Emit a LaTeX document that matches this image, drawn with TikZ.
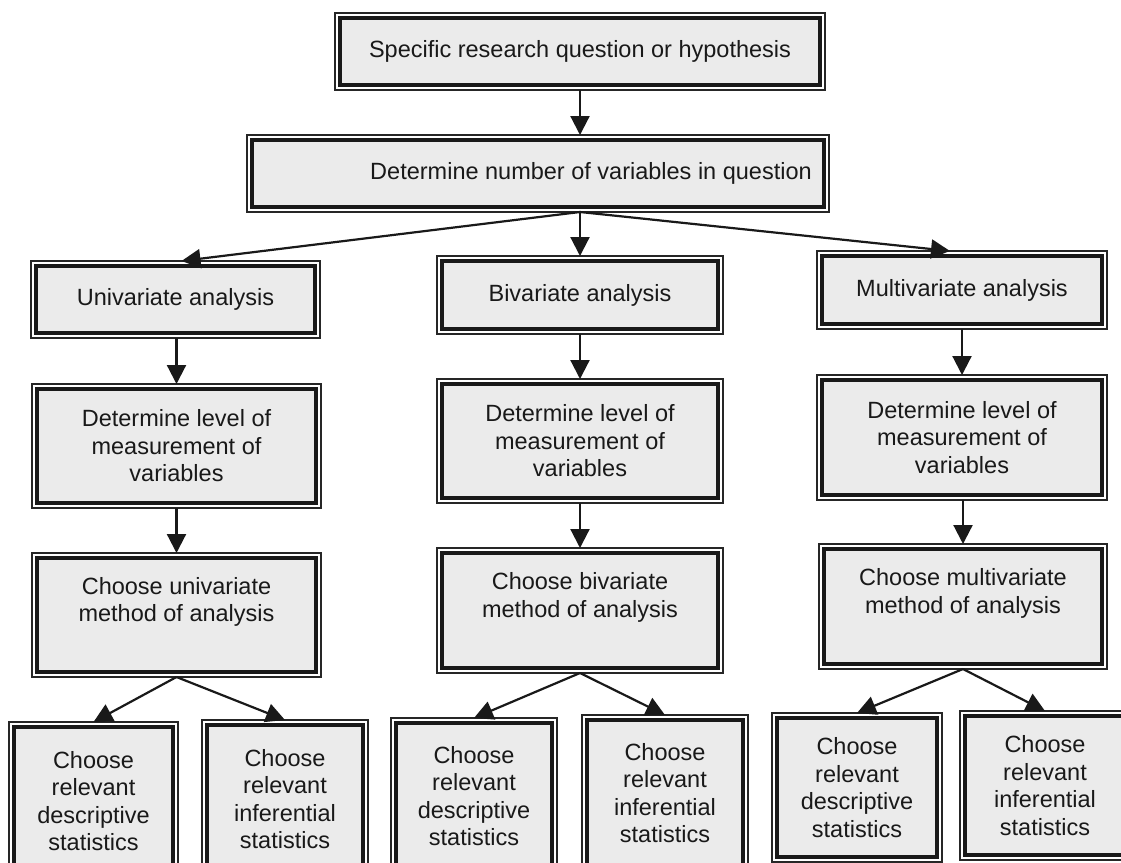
\documentclass[tikz,border=0pt]{standalone}
\usepackage{fontspec}
\setmainfont{Liberation Sans}
\usetikzlibrary{arrows.meta}

% framed box: name, x1, y1, x2, y2 (outer frame, px), text
\newcommand\flowbox[6]{%
  \node[framebox,
        minimum width={(#4-#2-10)*1pt},
        minimum height={(#5-#3-10)*1pt}]
    (#1) at ({(#2+#4)/2},{(#3+#5)/2}) {#6};
  \draw[outerline] (#1.north west) rectangle (#1.south east);
}

\tikzset{
  framebox/.style={draw=black!90, line width=3.4pt, fill=black!8,
    inner sep=0pt, outer sep=5pt, align=center,
    font=\fontsize{23.5}{27.5}\selectfont, text=black!90},
  outerline/.style={draw=black!85, line width=1.3pt},
  flowarrow/.style={draw=black!90, line width=2.2pt,
    -{Triangle[length=19pt,width=19pt]}},
}

\begin{document}
\begin{tikzpicture}[x=1pt,y=-1pt]
\useasboundingbox (0,0) rectangle (1121,862);

% top of the flow
\flowbox{top}{335}{13}{825}{90}{Specific research question or hypothesis}
\flowbox{num}{247}{135}{829}{212}{\hspace*{106pt}Determine number of variables in question}

% the three kinds of analysis
\flowbox{u}{31}{261}{320}{338}{Univariate analysis}
\flowbox{b}{437}{256}{723}{334}{Bivariate analysis}
\flowbox{m}{817}{251}{1107}{329}{Multivariate analysis}

\flowbox{ud}{32}{384}{321}{508}{Determine level of\\measurement of\\variables}
\flowbox{bd}{437}{379}{723}{503}{Determine level of\\measurement of\\variables}
\flowbox{md}{817}{375}{1107}{500}{Determine level of\\measurement of\\variables}

\flowbox{uc}{32}{553}{321}{677}{Choose univariate\\method of analysis\\[4pt]\mbox{}}
\flowbox{bc}{437}{548}{723}{673}{Choose bivariate\\method of analysis\\[4pt]\mbox{}}
\flowbox{mc}{819}{544}{1107}{669}{Choose multivariate\\method of analysis\\[4pt]\mbox{}}

% statistics boxes
\flowbox{uds}{9}{722}{178}{880}{Choose\\relevant\\descriptive\\statistics}
\flowbox{uis}{202}{720}{368}{878}{Choose\\relevant\\inferential\\statistics}
\flowbox{bds}{391}{718}{557}{874}{Choose\\relevant\\descriptive\\statistics}
\flowbox{bis}{582}{715}{748}{871}{Choose\\relevant\\inferential\\statistics}
\flowbox{mds}{772}{713}{942}{862}{Choose\\relevant\\descriptive\\statistics}
\flowbox{mis}{960}{711}{1130}{860}{Choose\\relevant\\inferential\\statistics}

% connectors
\draw[flowarrow] (top.south) -- (top.south |- num.north);
\coordinate (split) at (num.south -| b.north);
\draw[flowarrow] (split) -- (b.north);
\draw[flowarrow] (split) -- ([xshift=6pt]u.north);
\draw[flowarrow] (split) -- ([xshift=-12pt]m.north);

\draw[flowarrow] (ud.north |- u.south) -- (ud.north);
\draw[flowarrow] (bd.north |- b.south) -- (bd.north);
\draw[flowarrow] (md.north |- m.south) -- (md.north);

\draw[flowarrow] (uc.north |- ud.south) -- (uc.north);
\draw[flowarrow] (bc.north |- bd.south) -- (bc.north);
\draw[flowarrow] (mc.north |- md.south) -- (mc.north);

\draw[flowarrow] (uc.south) -- (uds.north);
\draw[flowarrow] (uc.south) -- (uis.north);
\draw[flowarrow] (bc.south) -- (bds.north);
\draw[flowarrow] (bc.south) -- (bis.north);
\draw[flowarrow] (mc.south) -- (mds.north);
\draw[flowarrow] (mc.south) -- (mis.north);
\end{tikzpicture}
\end{document}
